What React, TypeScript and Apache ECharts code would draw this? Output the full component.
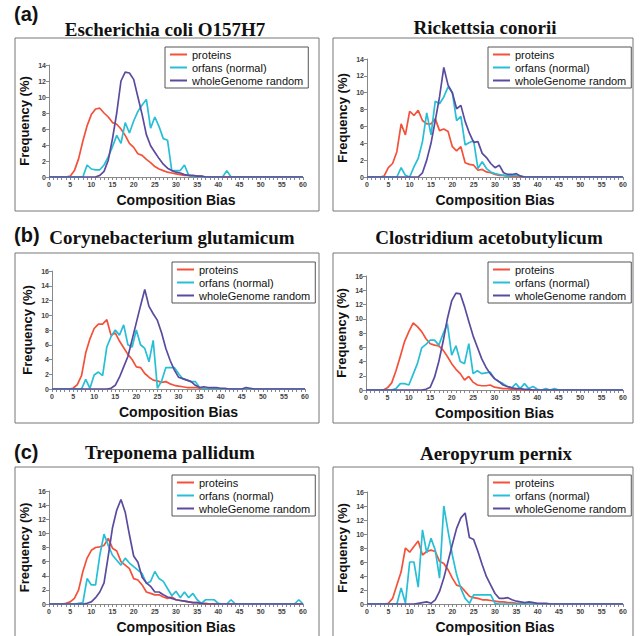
import React, { useEffect, useRef } from 'react';
import * as echarts from 'echarts';

// Composition Bias bins 0..60 (index = bias value)
// (a) Escherichia coli O157H7
const ecoliProteins = [
  0, 0, 0, 0, 0, 0.1, 0.8, 2.3, 4.5, 6.4,
  7.8, 8.5, 8.6, 8.0, 7.5, 6.8, 6.6, 6.0, 5.2, 4.2,
  3.7, 2.9, 2.7, 2.2, 1.8, 1.3, 1.0, 0.8, 0.6, 0.5,
  0.4, 0.3, 0.2, 0.2, 0.1, 0.1, 0.1, 0, 0, 0,
  0, 0, 0, 0, 0, 0, 0, 0, 0, 0,
  0, 0, 0, 0, 0, 0, 0, 0, 0, 0,
  0,
];
const ecoliOrfans = [
  0, 0, 0, 0, 0, 0, 0, 0, 0, 1.5,
  1.0, 0.9, 0.9, 1.5, 2.5, 3.8, 5.2, 4.2, 6.8, 5.5,
  7.0, 8.2, 9.0, 9.7, 6.1, 7.5, 6.3, 4.8, 4.6, 0.8,
  0.8, 0.8, 1.5, 0.2, 0.1, 0.1, 0, 0, 0, 0,
  0, 0, 0.8, 0, 0, 0, 0, 0, 0, 0,
  0, 0, 0, 0, 0, 0, 0, 0, 0, 0,
  0,
];
const ecoliGenome = [
  0, 0, 0, 0, 0, 0, 0, 0, 0, 0,
  0, 0, 0.2, 0.7, 2.1, 4.8, 8.0, 12.0, 13.1, 13.0,
  12.2, 10.0, 7.8, 5.3, 3.9, 3.1, 2.3, 1.6, 1.1, 0.8,
  0.6, 0.5, 0.3, 0.2, 0.2, 0.1, 0.1, 0, 0, 0,
  0, 0, 0, 0, 0, 0, 0, 0, 0, 0,
  0, 0, 0, 0, 0, 0, 0, 0, 0, 0,
  0,
];
// Rickettsia conorii
const rickProteins = [
  0, 0, 0, 0, 0.1, 1.1, 1.6, 3.0, 6.3, 5.0,
  7.8, 7.3, 7.9, 6.7, 6.3, 6.3, 6.9, 5.5, 5.7, 5.4,
  3.6, 3.1, 3.6, 1.7, 1.5, 1.4, 0.8, 0.9, 0.6, 0.5,
  0.3, 0.2, 0.2, 0.1, 0.1, 0.1, 0, 0, 0, 0,
  0, 0, 0, 0, 0, 0, 0, 0, 0, 0,
  0, 0, 0, 0, 0, 0, 0, 0, 0, 0,
  0,
];
const rickOrfans = [
  0, 0, 0, 0, 0, 0, 0, 0, 1.1, 0.2,
  0, 1.2, 2.2, 4.2, 7.6, 5.0, 9.0, 8.7, 9.5, 10.7,
  10.0, 6.7, 7.2, 3.8, 4.1, 4.3, 1.0, 1.8, 1.0, 0.6,
  0.4, 0.3, 0.2, 0.1, 0.2, 0.2, 0.1, 0, 0, 0,
  0, 0, 0, 0, 0, 0, 0, 0, 0, 0,
  0, 0, 0, 0, 0, 0, 0, 0, 0, 0,
  0,
];
const rickGenome = [
  0, 0, 0, 0, 0, 0, 0, 0, 0, 0,
  0, 0, 0, 0.5, 2.0, 4.0, 6.7, 9.5, 13.0, 10.9,
  10.0, 8.1, 8.5, 6.6, 5.2, 4.1, 4.2, 2.8, 2.3, 1.6,
  1.1, 1.4, 0.5, 0.3, 0.3, 0.4, 0.1, 0, 0, 0,
  0, 0, 0, 0, 0, 0, 0, 0, 0, 0,
  0, 0, 0, 0, 0, 0, 0, 0, 0, 0,
  0,
];
// (b) Corynebacterium glutamicum
const coryProteins = [
  0, 0, 0, 0, 0, 0.1, 0.6, 1.8, 4.9, 6.8,
  8.2, 8.8, 8.8, 9.4, 7.3, 7.6, 6.5, 5.6, 4.7, 4.0,
  3.0, 2.9, 2.1, 1.6, 1.2, 1.1, 0.9, 1.0, 0.7, 0.5,
  0.4, 0.3, 0.2, 0.2, 0.2, 0.1, 0.1, 0, 0, 0,
  0, 0, 0, 0, 0, 0, 0, 0, 0, 0,
  0, 0, 0, 0, 0, 0, 0, 0, 0, 0,
  0,
];
const coryOrfans = [
  0, 0, 0, 0, 0, 0, 0, 0, 1.3, 0.1,
  1.9, 2.3, 1.8, 5.7, 7.1, 8.0, 7.3, 8.7, 6.0, 5.7,
  8.0, 6.0, 5.5, 3.7, 6.6, 0.1, 1.1, 2.9, 2.9, 2.9,
  2.1, 1.4, 1.2, 1.0, 1.0, 0.2, 0.1, 0, 0, 0,
  0, 0, 0, 0, 0, 0, 0, 0, 0, 0,
  0, 0, 0, 0, 0, 0, 0, 0, 0, 0,
  0,
];
const coryGenome = [
  0, 0, 0, 0, 0, 0, 0, 0, 0, 0,
  0, 0, 0, 0, 0.1, 0.5, 1.6, 3.0, 4.4, 6.7,
  9.0, 11.3, 13.5, 11.2, 10.2, 9.3, 7.6, 5.5, 3.9, 2.6,
  1.6, 1.4, 1.2, 1.0, 0.5, 0.2, 0.3, 0.2, 0.2, 0.2,
  0.1, 0.1, 0, 0, 0, 0, 0.2, 0.1, 0, 0,
  0, 0, 0, 0, 0, 0, 0, 0, 0, 0,
  0,
];
// Clostridium acetobutylicum
const closProteins = [
  0, 0, 0, 0, 0, 0.3, 1.0, 2.7, 4.7, 6.8,
  8.2, 9.4, 8.9, 8.2, 7.2, 6.5, 6.3, 6.2, 5.6, 4.7,
  3.7, 2.9, 2.3, 1.4, 1.9, 1.1, 0.7, 0.6, 0.6, 0.7,
  0.4, 0.3, 0.2, 0.2, 0.1, 0.1, 0, 0, 0, 0,
  0, 0, 0, 0, 0, 0, 0, 0, 0, 0,
  0, 0, 0, 0, 0, 0, 0, 0, 0, 0,
  0,
];
const closOrfans = [
  0, 0, 0, 0, 0, 0, 0, 0.2, 0.9, 0.9,
  0.7, 2.2, 3.7, 5.9, 6.4, 7.0, 7.0, 6.3, 7.9, 9.3,
  4.9, 6.2, 4.0, 3.7, 6.5, 2.3, 2.7, 2.3, 2.4, 2.5,
  1.6, 1.2, 0.9, 0.5, 0.3, 0.9, 0.2, 0.9, 0.2, 0.5,
  0.1, 0, 0.2, 0, 0.2, 0, 0, 0, 0, 0,
  0, 0, 0, 0, 0, 0, 0, 0, 0, 0,
  0,
];
const closGenome = [
  0, 0, 0, 0, 0, 0, 0, 0, 0, 0,
  0, 0, 0, 0, 0.1, 0.4, 1.8, 4.0, 6.8, 10.0,
  12.5, 13.6, 13.5, 11.7, 9.6, 7.6, 6.0, 4.4, 3.2, 2.3,
  1.6, 1.2, 0.7, 0.5, 0.3, 0.2, 0.2, 0.1, 0.1, 0,
  0, 0, 0, 0, 0, 0, 0, 0, 0, 0,
  0, 0, 0, 0, 0, 0, 0, 0, 0, 0,
  0,
];
// (c) Treponema pallidum
const trepProteins = [
  0, 0, 0, 0, 0.1, 0.3, 0.8, 2.0, 4.6, 6.5,
  7.6, 8.0, 8.1, 8.3, 9.3, 7.9, 7.5, 6.0, 5.5, 5.0,
  3.6, 3.4, 2.7, 1.7, 1.5, 1.3, 1.3, 1.0, 0.8, 1.0,
  0.6, 0.5, 0.4, 0.3, 0.2, 0.2, 0.1, 0.1, 0, 0,
  0, 0, 0, 0, 0, 0, 0, 0, 0, 0,
  0, 0, 0, 0, 0, 0, 0, 0, 0, 0,
  0,
];
const trepOrfans = [
  0, 0, 0, 0, 0, 0, 0, 0.1, 0.2, 3.6,
  2.7, 2.7, 6.9, 9.9, 8.3, 6.9, 6.2, 5.5, 6.5, 5.8,
  5.3, 4.8, 4.3, 2.9, 3.2, 4.6, 3.6, 3.2, 2.2, 1.2,
  1.8, 0.9, 1.7, 0.9, 1.5, 0.6, 0.1, 0.6, 0.6, 0.6,
  0.1, 0, 0, 0.6, 0, 0, 0, 0, 0, 0,
  0, 0, 0, 0, 0, 0, 0, 0, 0, 0.6,
  0,
];
const trepGenome = [
  0, 0, 0, 0, 0, 0, 0, 0, 0, 0.1,
  0.3, 0.9, 1.7, 3.0, 6.8, 10.8, 13.3, 14.8, 13.0, 9.8,
  6.8, 5.9, 3.8, 3.0, 2.5, 1.7, 1.7, 1.3, 1.0, 0.8,
  0.6, 0.5, 0.4, 0.3, 0.2, 0.2, 0.1, 0, 0, 0,
  0, 0, 0, 0, 0, 0, 0, 0, 0, 0,
  0, 0, 0, 0, 0, 0, 0, 0, 0, 0,
  0,
];
// Aeropyrum pernix
const aeroProteins = [
  0, 0, 0, 0, 0, 0.1, 0.8, 2.7, 4.6, 8.0,
  7.4, 8.2, 9.0, 7.0, 7.5, 7.7, 7.5, 6.1, 5.8, 4.9,
  3.7, 2.7, 2.5, 1.8, 1.1, 0.9, 0.8, 0.6, 0.6, 0.5,
  0.4, 0.3, 0.3, 0.2, 0.2, 0.1, 0.1, 0, 0, 0,
  0, 0, 0, 0, 0, 0, 0, 0, 0, 0,
  0, 0, 0, 0, 0, 0, 0, 0, 0, 0,
  0,
];
const aeroOrfans = [
  0, 0, 0, 0, 0, 0, 0, 0, 2.3, 0.1,
  6.0, 6.0, 2.4, 10.6, 7.3, 9.4, 7.7, 3.7, 14.0, 10.4,
  7.0, 4.2, 2.2, 0.8, 0.1, 1.3, 1.3, 1.3, 1.3, 1.3,
  0.1, 0, 0, 0, 0, 0, 0, 0, 0, 0,
  0, 0, 0, 0, 0, 0, 0, 0, 0, 0,
  0, 0, 0, 0, 0, 0, 0, 0, 0, 0,
  0,
];
const aeroGenome = [
  0, 0, 0, 0, 0, 0, 0, 0, 0, 0,
  0, 0, 0.1, 0.2, 0.3, 0.1, 0.6, 1.8, 3.7, 6.1,
  8.5, 10.8, 12.3, 13.0, 9.5, 9.2, 7.5, 5.6, 3.9, 2.7,
  1.5, 0.8, 0.8, 0.9, 0.6, 0.4, 0.3, 0.2, 0.3, 0.2,
  0.1, 0.1, 0.1, 0, 0, 0, 0, 0, 0, 0,
  0, 0, 0, 0, 0, 0, 0, 0, 0, 0,
  0,
];

const SERIES_NAMES = ['proteins', 'orfans (normal)', 'wholeGenome random'];
const TITLES = [
  'Escherichia coli O157H7',
  'Rickettsia conorii',
  'Corynebacterium glutamicum',
  'Clostridium acetobutylicum',
  'Treponema pallidum',
  'Aeropyrum pernix',
];
const TAGS = ['(a)', '', '(b)', '', '(c)', ''];
const Y_MAX = [14, 14, 16, 16, 16, 16];
const DATA = [
  [ecoliProteins, ecoliOrfans, ecoliGenome],
  [rickProteins, rickOrfans, rickGenome],
  [coryProteins, coryOrfans, coryGenome],
  [closProteins, closOrfans, closGenome],
  [trepProteins, trepOrfans, trepGenome],
  [aeroProteins, aeroOrfans, aeroGenome],
];
const X_AXIS_NAME = 'Composition Bias';
const Y_AXIS_NAME = 'Frequency (%)';

// layout (pixels)
const LAYOUT = [
  { box: [15, 38, 304, 173], grid: [49, 65, 254, 112], title: [165, 29], legend: [165, 47], tag: [14, 14] },
  { box: [333, 38, 300, 173], grid: [367, 59, 256, 118], title: [485, 27], legend: [488, 47], tag: [0, 0] },
  { box: [15, 253, 304, 170], grid: [52, 271, 253, 118], title: [172, 237], legend: [172, 262], tag: [14, 235] },
  { box: [333, 253, 300, 170], grid: [366, 276, 257, 114], title: [489, 237], legend: [488, 262], tag: [0, 0] },
  { box: [15, 467, 304, 190], grid: [49, 491, 254, 113], title: [170, 452], legend: [172, 475], tag: [14, 452] },
  { box: [333, 467, 300, 190], grid: [367, 492, 256, 112], title: [496, 453], legend: [488, 475], tag: [0, 0] },
];
const COLORS = ['#f4513a', '#26bfd6', '#5b4b9f'];
const SANS = '"Liberation Sans", Arial, sans-serif';
const SERIF = '"Liberation Serif", "Times New Roman", serif';

export default function App() {
  const ref = useRef<HTMLDivElement>(null);
  useEffect(() => {
    if (!ref.current) return;
    const chart = echarts.init(ref.current, null, { renderer: 'svg' });
    const grids: any[] = [];
    const xAxes: any[] = [];
    const yAxes: any[] = [];
    const legends: any[] = [];
    const series: any[] = [];
    const graphics: any[] = [];
    const axisColor = '#888';
    LAYOUT.forEach((L, p) => {
      grids.push({
        left: L.grid[0], top: L.grid[1], width: L.grid[2], height: L.grid[3],
        containLabel: false, outerBoundsMode: 'none',
      });
      xAxes.push({
        gridIndex: p, type: 'value', min: 0, max: 60, interval: 5,
        axisLine: { show: true, onZero: false, lineStyle: { color: axisColor, width: 1 } },
        axisTick: { show: true, length: 3, lineStyle: { color: axisColor } },
        minorTick: { show: true, splitNumber: 5, length: 3, lineStyle: { color: axisColor } },
        splitLine: { show: false },
        minorSplitLine: { show: false },
        axisLabel: { fontSize: 7, fontWeight: 'bold', color: '#444', margin: 4, fontFamily: SANS },
        name: X_AXIS_NAME, nameLocation: 'middle', nameGap: 16,
        nameTextStyle: { fontSize: 14, fontWeight: 'bold', color: '#111', fontFamily: SANS, verticalAlign: 'top' },
      });
      yAxes.push({
        gridIndex: p, type: 'value', min: 0, max: Y_MAX[p], interval: 2,
        axisLine: { show: true, lineStyle: { color: axisColor, width: 1 } },
        axisTick: { show: true, length: 3, lineStyle: { color: axisColor } },
        splitLine: { show: false },
        axisLabel: { fontSize: 7, fontWeight: 'bold', color: '#444', margin: 3, fontFamily: SANS },
        name: Y_AXIS_NAME, nameLocation: 'middle', nameGap: 18, nameRotate: 90,
        nameTextStyle: { fontSize: 13, fontWeight: 'bold', color: '#111', fontFamily: SANS },
      });
      legends.push({
        show: true, orient: 'vertical', left: L.legend[0], top: L.legend[1],
        data: SERIES_NAMES, icon: 'rect', itemWidth: 17, itemHeight: 2, itemGap: 0,
        padding: [1, 5, 1, 5], borderColor: '#555', borderWidth: 1, backgroundColor: '#fff',
        selectedMode: false,
        textStyle: { fontSize: 11, fontFamily: SANS, color: '#111', lineHeight: 13 },
      });
      DATA[p].forEach((arr, k) => {
        series.push({
          type: 'line', name: SERIES_NAMES[k], xAxisIndex: p, yAxisIndex: p,
          data: arr.map((v, i) => [i, v]),
          symbol: 'none', silent: true,
          lineStyle: { color: COLORS[k], width: 1.7 },
          itemStyle: { color: COLORS[k] },
          z: 2 + k,
        });
      });
      graphics.push({
        type: 'rect', shape: { x: L.box[0], y: L.box[1], width: L.box[2], height: L.box[3] },
        style: { fill: 'none', stroke: '#777', lineWidth: 1 }, z: 0, silent: true,
      });
      graphics.push({
        type: 'text', x: L.title[0], y: L.title[1],
        style: {
          text: TITLES[p], textAlign: 'center', textVerticalAlign: 'middle',
          fontSize: 19, fontWeight: 'bold', fontFamily: SERIF, fill: '#111',
        },
      });
      if (TAGS[p]) {
        graphics.push({
          type: 'text', x: L.tag[0], y: L.tag[1],
          style: {
            text: TAGS[p], textAlign: 'left', textVerticalAlign: 'middle',
            fontSize: 20, fontWeight: 'bold', fontFamily: SANS, fill: '#111',
          },
        });
      }
    });
    chart.setOption({
      animation: false,
      backgroundColor: '#fff',
      grid: grids,
      xAxis: xAxes,
      yAxis: yAxes,
      legend: legends,
      series,
      graphic: graphics,
    });
    return () => chart.dispose();
  }, []);
  return <div ref={ref} style={{ position: 'absolute', left: 0, top: 0, width: 640, height: 636 }} />;
}
